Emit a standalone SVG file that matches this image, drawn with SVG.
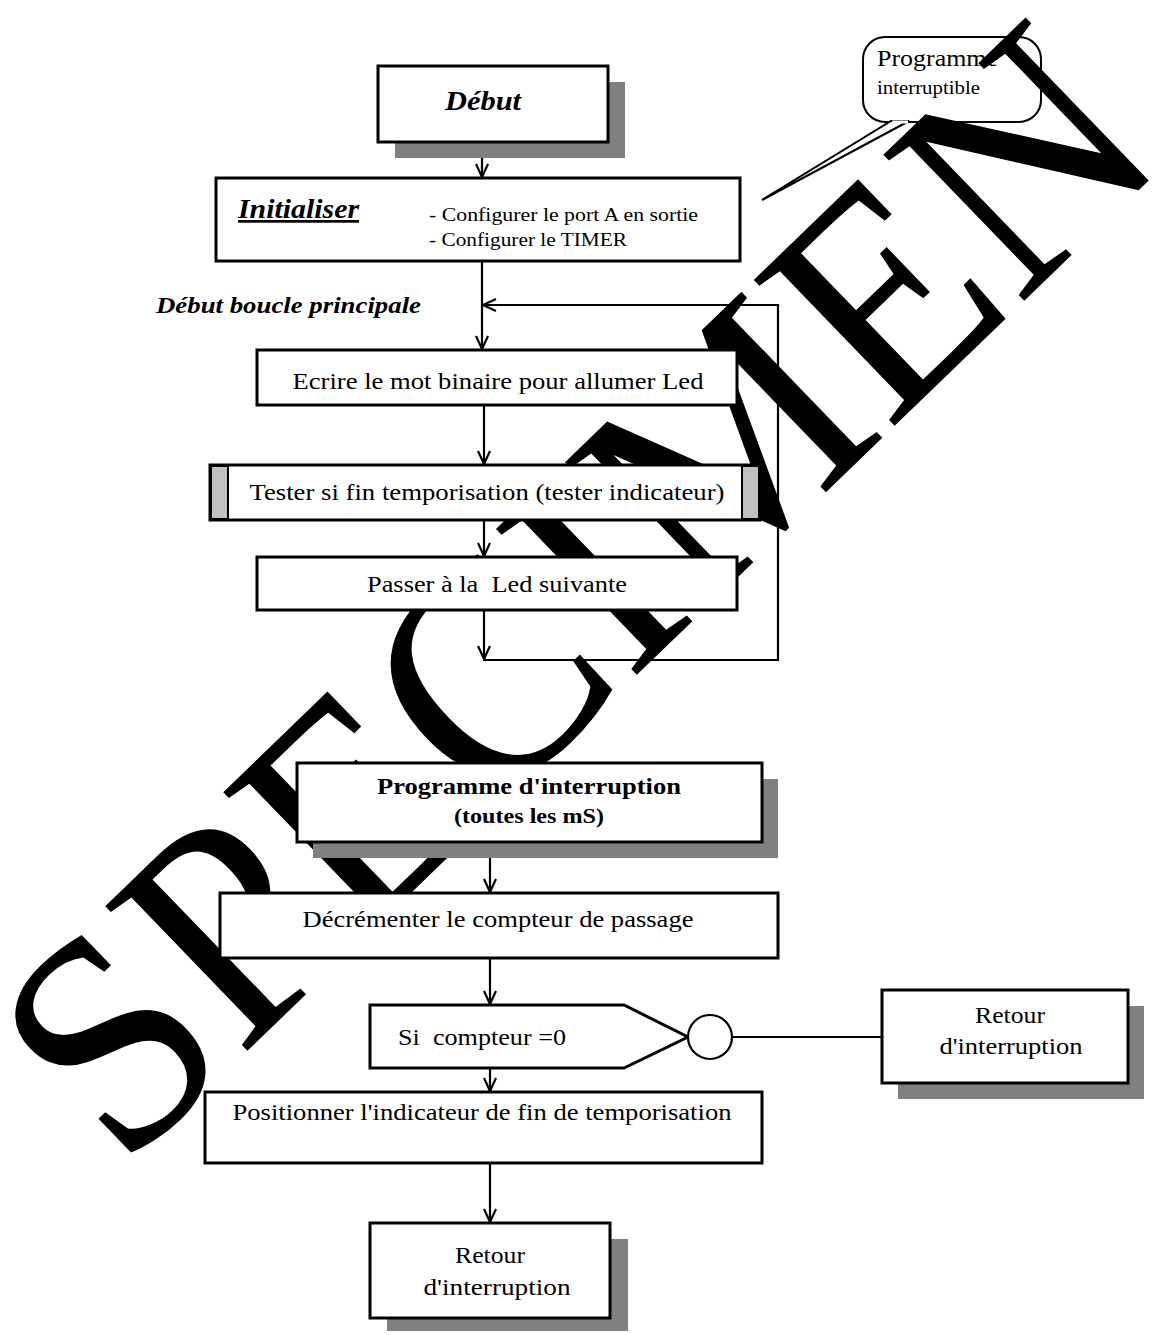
<svg xmlns="http://www.w3.org/2000/svg" width="1154" height="1335" viewBox="0 0 1154 1335">
  <defs>
    <marker id="arrow" viewBox="0 0 16 16" refX="15" refY="8" markerWidth="16" markerHeight="16" markerUnits="userSpaceOnUse" orient="auto">
      <polyline points="2,2 15,8 2,14" fill="none" stroke="#000" stroke-width="2.2" stroke-linejoin="miter"/>
    </marker>
    <style>
      .box { fill: #fff; stroke: #000; stroke-width: 3; }
      .shadow { fill: #808080; }
      .bar { fill: #c0c0c0; stroke: #000; stroke-width: 2; }
      .wire { fill: none; stroke: #000; stroke-width: 2.2; }
      .lbl { font-family: "Liberation Serif", "Times New Roman", serif; font-size: 23px; fill: #000; white-space: pre; }
      .mid { text-anchor: middle; }
      .bi { font-weight: bold; font-style: italic; }
      .b { font-weight: bold; }
      .mark { font-family: "Liberation Serif", "Times New Roman", serif; font-size: 295px; fill: #000; }
    </style>
  </defs>
  <rect width="1154" height="1335" fill="#fff"/>

  <!-- callout bubble -->
  <g id="callout">
    <rect x="863" y="37" width="178" height="85" rx="22" ry="22" fill="#fff" stroke="#000" stroke-width="2"/>
    <polygon points="891,121 909,121 762,200" fill="#fff" stroke="#000" stroke-width="2"/>
    <line x1="892" y1="122" x2="908" y2="122" stroke="#fff" stroke-width="3"/>
    <text class="lbl" x="877" y="66" style="font-size:24px" textLength="121" lengthAdjust="spacingAndGlyphs">Programme</text>
    <text class="lbl" x="877" y="94" style="font-size:18px" textLength="103" lengthAdjust="spacingAndGlyphs">interruptible</text>
  </g>

  <!-- diagonal watermark -->
  <text class="mark" transform="translate(122,1172) rotate(-44) scale(1,1.05)">SPECIMEN</text>

  <g id="connectors">
    <line class="wire" x1="482" y1="142" x2="482" y2="177" marker-end="url(#arrow)"/>
    <line class="wire" x1="482" y1="261" x2="482" y2="349" marker-end="url(#arrow)"/>
    <polyline class="wire" points="778,305 778,660 483,660"/>
    <line class="wire" x1="779" y1="305" x2="483" y2="305" marker-end="url(#arrow)"/>
    <line class="wire" x1="484" y1="405" x2="484" y2="464" marker-end="url(#arrow)"/>
    <line class="wire" x1="484" y1="520" x2="484" y2="556" marker-end="url(#arrow)"/>
    <line class="wire" x1="484" y1="610" x2="484" y2="659" marker-end="url(#arrow)"/>
    <line class="wire" x1="490" y1="842" x2="490" y2="892" marker-end="url(#arrow)"/>
    <line class="wire" x1="490" y1="958" x2="490" y2="1004" marker-end="url(#arrow)"/>
    <line class="wire" x1="490" y1="1068" x2="490" y2="1091" marker-end="url(#arrow)"/>
    <line class="wire" x1="490" y1="1163" x2="490" y2="1222" marker-end="url(#arrow)"/>
    <line class="wire" x1="732" y1="1037" x2="882" y2="1037"/>
  </g>

  <g id="debut">
    <rect class="shadow" x="395" y="82" width="230" height="76"/>
    <rect class="box" x="378" y="66" width="230" height="76"/>
    <text class="lbl bi mid" x="483" y="110" style="font-size:27px" textLength="76" lengthAdjust="spacingAndGlyphs">Début</text>
  </g>

  <g id="initialiser">
    <rect class="box" x="216" y="178" width="524" height="83"/>
    <text class="lbl bi" x="238" y="218" style="font-size:27px" textLength="121" lengthAdjust="spacingAndGlyphs" text-decoration="underline">Initialiser</text>
    <text class="lbl" x="429" y="221" style="font-size:19px" textLength="269" lengthAdjust="spacingAndGlyphs">- Configurer le port A en sortie</text>
    <text class="lbl" x="429" y="246" style="font-size:19px" textLength="198" lengthAdjust="spacingAndGlyphs">- Configurer le TIMER</text>
  </g>

  <g id="boucle-label">
    <text class="lbl bi" x="156" y="313" textLength="265" lengthAdjust="spacingAndGlyphs">Début boucle principale</text>
  </g>

  <g id="ecrire">
    <rect class="box" x="257" y="350" width="480" height="55"/>
    <text class="lbl mid" x="498" y="389" textLength="411" lengthAdjust="spacingAndGlyphs">Ecrire le mot binaire pour allumer Led</text>
  </g>

  <g id="tester">
    <rect class="box" x="210" y="465" width="550" height="55"/>
    <rect class="bar" x="211" y="466" width="17" height="53"/>
    <rect class="bar" x="742" y="466" width="17" height="53"/>
    <text class="lbl mid" x="487" y="500" textLength="475" lengthAdjust="spacingAndGlyphs">Tester si fin temporisation (tester indicateur)</text>
  </g>

  <g id="passer">
    <rect class="box" x="257" y="557" width="480" height="53"/>
    <text class="lbl mid" x="497" y="592" textLength="260" lengthAdjust="spacingAndGlyphs" xml:space="preserve">Passer à la  Led suivante</text>
  </g>

  <g id="prog-interruption">
    <rect class="shadow" x="313" y="779" width="465" height="79"/>
    <rect class="box" x="297" y="763" width="465" height="79"/>
    <text class="lbl b mid" x="529" y="794" textLength="304" lengthAdjust="spacingAndGlyphs">Programme d'interruption</text>
    <text class="lbl b mid" x="529" y="823" style="font-size:20px" textLength="150" lengthAdjust="spacingAndGlyphs">(toutes les mS)</text>
  </g>

  <g id="decrementer">
    <rect class="box" x="220" y="893" width="558" height="65"/>
    <text class="lbl mid" x="498" y="927" textLength="391" lengthAdjust="spacingAndGlyphs">Décrémenter le compteur de passage</text>
  </g>

  <g id="si-compteur">
    <polygon class="box" points="370,1005 624,1005 688,1037 624,1068 370,1068"/>
    <text class="lbl" x="398" y="1045" textLength="168" lengthAdjust="spacingAndGlyphs" xml:space="preserve">Si  compteur =0</text>
  </g>

  <g id="connecteur-rond">
    <circle cx="710" cy="1037" r="22" fill="#fff" stroke="#000" stroke-width="2.2"/>
  </g>

  <g id="retour-droite">
    <rect class="shadow" x="898" y="1006" width="246" height="93"/>
    <rect class="box" x="882" y="990" width="246" height="93"/>
    <text class="lbl mid" x="1010" y="1023" textLength="70" lengthAdjust="spacingAndGlyphs">Retour</text>
    <text class="lbl mid" x="1011" y="1054" textLength="143" lengthAdjust="spacingAndGlyphs">d'interruption</text>
  </g>

  <g id="positionner">
    <rect class="box" x="205" y="1092" width="557" height="71"/>
    <text class="lbl mid" x="482" y="1120" textLength="499" lengthAdjust="spacingAndGlyphs">Positionner l'indicateur de fin de temporisation</text>
  </g>

  <g id="retour-bas">
    <rect class="shadow" x="387" y="1239" width="241" height="92"/>
    <rect class="box" x="370" y="1223" width="240" height="95"/>
    <text class="lbl mid" x="490" y="1263" textLength="70" lengthAdjust="spacingAndGlyphs">Retour</text>
    <text class="lbl mid" x="497" y="1295" textLength="147" lengthAdjust="spacingAndGlyphs">d'interruption</text>
  </g>
</svg>
